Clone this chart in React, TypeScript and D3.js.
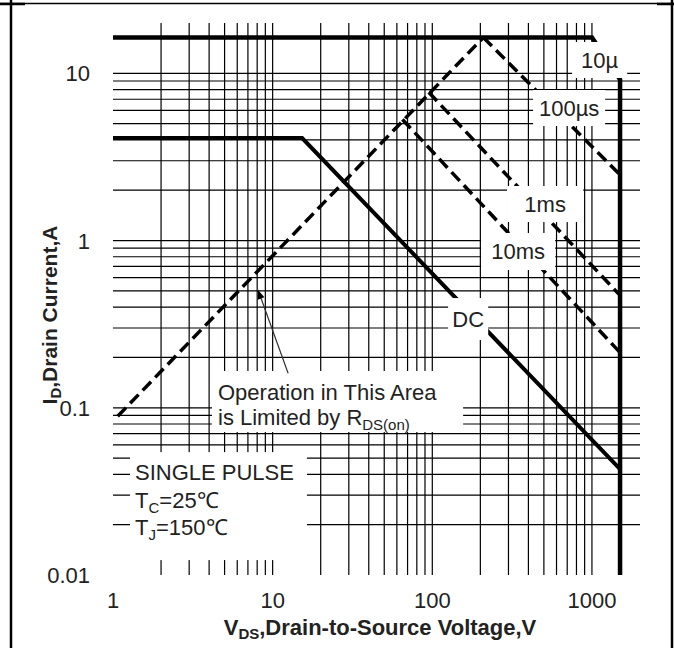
import React from "react";
import * as d3 from "d3";

// axis ticks
const xTicks = [1, 10, 100, 1000];
const yTicks = [0.01, 0.1, 1, 10];
const xTickLabels = ["1", "10", "100", "1000"];
const yTickLabels = ["0.01", "0.1", "1", "10"];

// SOA boundaries [V, A]
const rdsLimit: [number, number][] = [[1.07, 0.089], [209, 16.4]];
const pulse10us: [number, number][] = [[1, 16.4], [1000, 16.4], [1500, 9.2], [1500, 0.01]];
const pulse100us: [number, number][] = [[209, 16.4], [1500, 2.47]];
const pulse1ms: [number, number][] = [[95, 7.7], [1500, 0.47]];
const pulse10ms: [number, number][] = [[65, 5.3], [1500, 0.214]];
const dcLine: [number, number][] = [[1, 4.1], [15.3, 4.1], [1500, 0.043]];

// label boxes in data space: [v0, v1, i0, i1]
const curveLabels = [
  { text: "10\u00b5", box: [751, 1662, 15.4, 9.38] },
  { text: "100\u00b5s", box: [428, 1210, 7.95, 4.84] },
  { text: "1ms", box: [294, 881, 2.12, 1.29] },
  { text: "10ms", box: [202, 588, 1.11, 0.666] },
  { text: "DC", box: [125.6, 224, 0.453, 0.254] },
];
const noteBox = [4.17, 156, 0.166, 0.0716];
const condBox = [1.278, 16.4, 0.0543, 0.01228];
const arrowFrom: [number, number] = [12.5, 0.161];
const arrowTo: [number, number] = [8.1, 0.506];

const x = d3.scaleLog().domain([1, 2000]).range([113, 640]);
const y = d3.scaleLog().domain([0.01, 20]).range([575, 23]);

const gridX: number[] = [];
const gridY: number[] = [];
for (let d = -2; d <= 3; d++) {
  for (let k = 1; k <= 9; k++) {
    const v = k * Math.pow(10, d);
    if (v > 1.0001 && v < 1999) gridX.push(v);
    if (v > 0.01001 && v < 19.9) gridY.push(v);
  }
}

const line = d3
  .line<[number, number]>()
  .x((d) => x(d[0]))
  .y((d) => y(d[1]));

const FONT = "'Liberation Sans', Arial, sans-serif";
const FS = 22;
const SUB = 15;

function boxRect(b: number[]) {
  const x0 = x(b[0]);
  const x1 = x(b[1]);
  const y0 = y(b[2]);
  const y1 = y(b[3]);
  return { x: x0, y: y0, width: x1 - x0, height: y1 - y0 };
}

export default function App() {
  const W = 674;
  const H = 648;
  const [x0, x1] = x.range();
  const [y1, y0] = y.range();
  const nb = boxRect(noteBox);
  const cb = boxRect(condBox);

  const ax = x(arrowFrom[0]);
  const ay = y(arrowFrom[1]);
  const tx = x(arrowTo[0]);
  const ty = y(arrowTo[1]);
  const ang = Math.atan2(ty - ay, tx - ax);
  const ah = 9;
  const aw = 3.5;
  const head = [
    [tx, ty],
    [tx - ah * Math.cos(ang) + aw * Math.sin(ang), ty - ah * Math.sin(ang) - aw * Math.cos(ang)],
    [tx - ah * Math.cos(ang) - aw * Math.sin(ang), ty - ah * Math.sin(ang) + aw * Math.cos(ang)],
  ]
    .map((p) => p.join(","))
    .join(" ");

  return (
    <svg
      width={W}
      height={H}
      style={{ position: "absolute", left: 0, top: 0, background: "#fff" }}
      fontFamily={FONT}
    >
      <rect width={W} height={H} fill="#fff" />
      {/* outer frame */}
      <line x1={0} x2={W} y1={3.5} y2={3.5} stroke="#000" strokeWidth={1.3} />
      <line x1={0} x2={25} y1={4} y2={4} stroke="#000" strokeWidth={2.5} />
      <line x1={657} x2={W} y1={4} y2={4} stroke="#000" strokeWidth={2.5} />
      <line x1={11} x2={11} y1={0} y2={H} stroke="#000" strokeWidth={2.5} />
      <line x1={672} x2={672} y1={0} y2={H} stroke="#000" strokeWidth={2.5} />

      {/* grid */}
      <g stroke="#000" strokeWidth={1.2}>
        {gridX.map((v) => (
          <line key={"gx" + v} x1={x(v)} x2={x(v)} y1={y0} y2={y1} />
        ))}
        {gridY.map((v) => (
          <line key={"gy" + v} x1={x0} x2={x1} y1={y(v)} y2={y(v)} />
        ))}
      </g>

      {/* curves */}
      <g fill="none" stroke="#000">
        <path d={line(pulse10us) || ""} strokeWidth={4.5} />
        <path d={line(dcLine) || ""} strokeWidth={4} />
        <path d={line(rdsLimit) || ""} strokeWidth={3.5} strokeDasharray="12,6" />
        <path d={line(pulse100us) || ""} strokeWidth={3.5} strokeDasharray="12,6" />
        <path d={line(pulse1ms) || ""} strokeWidth={3.5} strokeDasharray="12,6" />
        <path d={line(pulse10ms) || ""} strokeWidth={3.5} strokeDasharray="12,6" />
      </g>

      {/* label boxes */}
      {curveLabels.map((l) => {
        const r = boxRect(l.box);
        return (
          <g key={l.text}>
            <rect {...r} fill="#fff" />
            <text
              x={r.x + r.width / 2}
              y={r.y + r.height / 2 + FS * 0.36}
              textAnchor="middle"
              fontSize={FS}
              fill="#222"
            >
              {l.text}
            </text>
          </g>
        );
      })}

      <rect {...nb} fill="#fff" />
      <text x={nb.x + 6} y={nb.y + 29} fontSize={FS} fill="#222">
        Operation in This Area
      </text>
      <text x={nb.x + 6} y={nb.y + 54} fontSize={FS} fill="#222">
        is Limited by R
        <tspan fontSize={SUB} dy={5}>
          DS(on)
        </tspan>
      </text>

      <rect {...cb} fill="#fff" />
      <text x={cb.x + 5} y={cb.y + 28} fontSize={FS} fill="#222">
        SINGLE PULSE
      </text>
      <text x={cb.x + 5} y={cb.y + 56} fontSize={FS} fill="#222">
        T
        <tspan fontSize={SUB} dy={5}>
          C
        </tspan>
        <tspan dy={-5}>=25℃</tspan>
      </text>
      <text x={cb.x + 5} y={cb.y + 83} fontSize={FS} fill="#222">
        T
        <tspan fontSize={SUB} dy={5}>
          J
        </tspan>
        <tspan dy={-5}>=150℃</tspan>
      </text>

      {/* arrow */}
      <line x1={ax} y1={ay} x2={tx} y2={ty} stroke="#333" strokeWidth={1.2} />
      <polygon points={head} fill="#000" />

      {/* plot border */}
      <rect
        x={x0}
        y={y1}
        width={x1 - x0}
        height={y0 - y1}
        fill="none"
        stroke="#999"
        strokeWidth={2}
      />

      {/* tick labels */}
      {xTicks.map((v, i) => (
        <text key={"xt" + v} x={x(v)} y={608} textAnchor="middle" fontSize={FS} fill="#222">
          {xTickLabels[i]}
        </text>
      ))}
      {yTicks.map((v, i) => (
        <text key={"yt" + v} x={90} y={y(v) + 8} textAnchor="end" fontSize={FS} fill="#222">
          {yTickLabels[i]}
        </text>
      ))}

      {/* axis titles */}
      <text x={380} y={635} textAnchor="middle" fontSize={FS} fontWeight="bold" fill="#222">
        V
        <tspan fontSize={SUB} dy={4}>
          DS
        </tspan>
        <tspan dy={-4}>,Drain-to-Source Voltage,V</tspan>
      </text>
      <text
        transform="translate(57,315) rotate(-90)"
        textAnchor="middle"
        fontSize={21}
        fontWeight="bold"
        fill="#222"
      >
        I
        <tspan fontSize={SUB} dy={4}>
          D
        </tspan>
        <tspan dy={-4}>,Drain Current,A</tspan>
      </text>
    </svg>
  );
}
